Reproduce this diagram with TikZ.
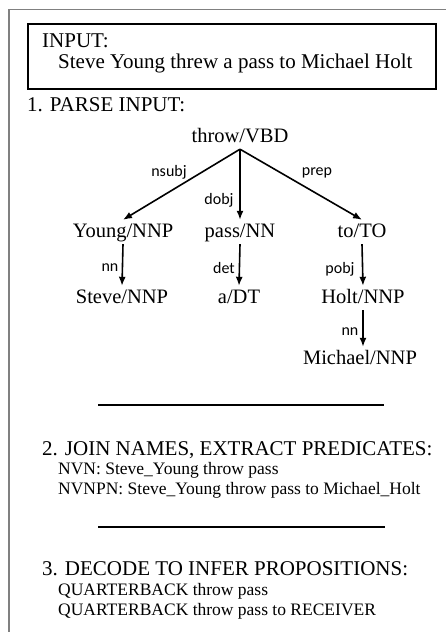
\documentclass[tikz,border=0pt]{standalone}
\usepackage{fontspec}
\setmainfont{Liberation Serif}
\newfontfamily\lblfont{Carlito}
\usetikzlibrary{arrows.meta}
\begin{document}
\begin{tikzpicture}[x=1pt,y=-1pt,
  big/.style={font=\fontsize{21}{24}\selectfont, inner sep=0pt, anchor=base west},
  small/.style={font=\fontsize{17.5}{20}\selectfont, inner sep=0pt, anchor=base west},
  tn/.style={font=\fontsize{20.5}{24}\selectfont, inner sep=3pt, anchor=base, text height=14pt, text depth=4pt},
  lbl/.style={font=\lblfont\fontsize{16}{18}\selectfont, inner sep=0pt},
  arr/.style={line width=1.6pt, -{Latex[length=9pt,width=7pt]}},
  rule/.style={line width=2.5pt},
  frame/.style={draw=black!50, line width=1.5pt}]
\useasboundingbox (0,0) rectangle (446,632);
% outer frame
\coordinate (ftr) at (446,9.5);
\coordinate (ftl) at (9,9.5);
\coordinate (fbl) at (9,632);
\draw[frame] (ftr) -- (ftl) -- (fbl);
% input box
\node[draw, line width=1.5pt, minimum width=408pt, minimum height=65pt, anchor=north west, inner sep=0pt] (inbox) at (27,23) {};
\node[big] (inputlbl) at (42,47) {INPUT:};
\node[big] (inputtxt) at (58,68) {Steve Young threw a pass to Michael Holt};
% section 1
\node[big] (s1) at (27,111) {1. PARSE INPUT:};
\node[tn] (throw) at (240,142) {throw/VBD};
\node[tn] (young) at (123,237) {Young/NNP};
\node[tn] (pass) at (240,237) {pass/NN};
\node[tn] (to) at (362,237) {to/TO};
\node[tn] (steve) at (122,303) {Steve/NNP};
\node[tn] (adt) at (239,303) {a/DT};
\node[tn] (holt) at (363,303) {Holt/NNP};
\node[tn] (michael) at (360,364) {Michael/NNP};
\draw[arr] (throw.south) -- (young.north);
\draw[arr] (throw.south) -- (pass.north);
\draw[arr] (throw.south) -- (to.north);
\draw[arr] (young.south) -- (steve.north);
\draw[arr] (pass.south) -- (adt.north);
\draw[arr] (to.south) -- (holt.north);
\draw[arr] (holt.south) -- (holt.south |- michael.north);
\node[lbl] (lnsubj) at (169,172) {nsubj};
\node[lbl] (ldobj) at (219,200) {dobj};
\node[lbl] (lprep) at (317,173) {prep};
\node[lbl] (lnn1) at (110,268) {nn};
\node[lbl] (ldet) at (224,268) {det};
\node[lbl] (lpobj) at (340,269) {pobj};
\node[lbl] (lnn2) at (350,332) {nn};
% rules
\coordinate (r1a) at (98,405);
\coordinate (r1b) at (384,405);
\draw[rule] (r1a) -- (r1b);
\coordinate (r2a) at (98,527);
\coordinate (r2b) at (385,527);
\draw[rule] (r2a) -- (r2b);
% section 2
\node[big] (s2) at (42,455) {2. JOIN NAMES, EXTRACT PREDICATES:};
\node[small] (nvn) at (58,474) {NVN: Steve\_Young throw pass};
\node[small] (nvnpn) at (58,494) {NVNPN: Steve\_Young throw pass to Michael\_Holt};
% section 3
\node[big] (s3) at (42,575) {3. DECODE TO INFER PROPOSITIONS:};
\node[small] (q1) at (58,595) {QUARTERBACK throw pass};
\node[small] (q2) at (58,615) {QUARTERBACK throw pass to RECEIVER};
\end{tikzpicture}
\end{document}
